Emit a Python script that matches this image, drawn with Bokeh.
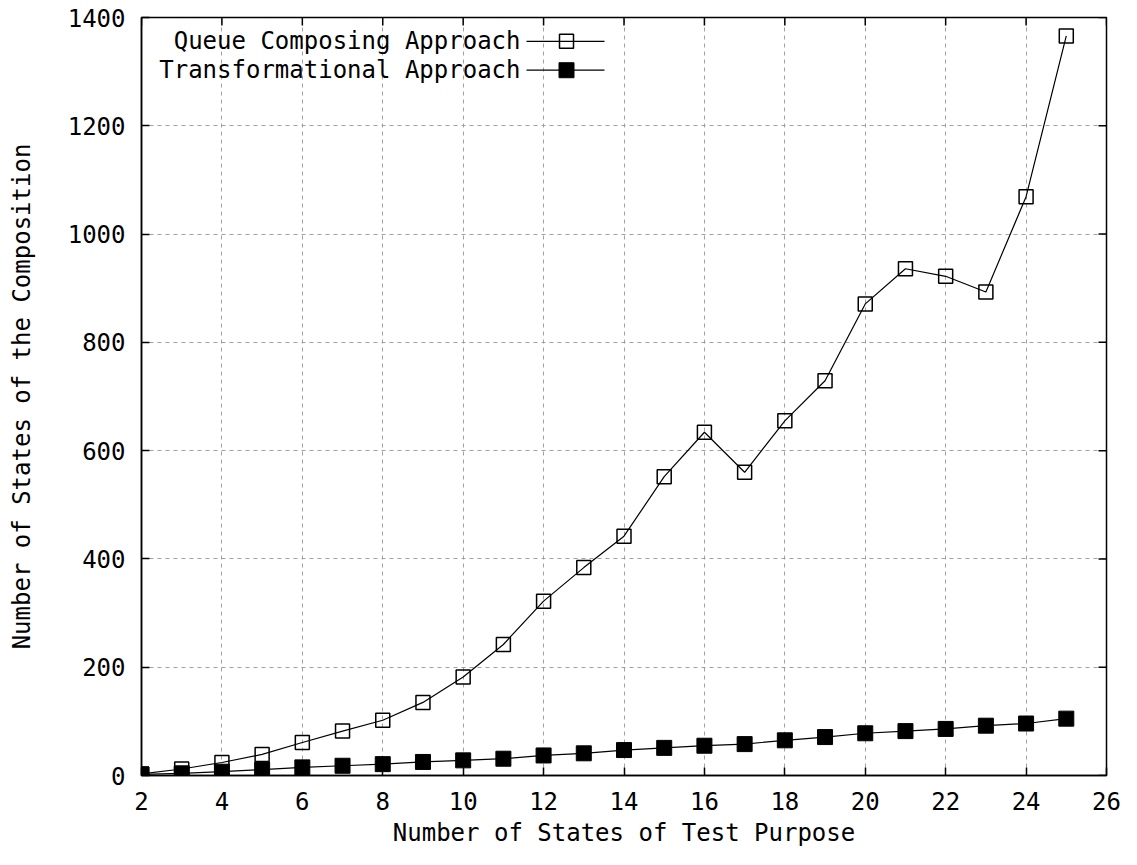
from bokeh.plotting import figure
from bokeh.models import Range1d, FixedTicker, Label
from bokeh.embed import file_html
from bokeh.resources import INLINE

# ---- data ----
x_states = list(range(2, 26))
queue_composing = [3, 12, 24, 39, 61, 82, 102, 135, 182, 242, 322, 384, 442,
                   552, 634, 560, 655, 729, 871, 936, 922, 893, 1069, 1366]
transformational = [2, 4, 7, 11, 15, 18, 21, 25, 28, 31, 37, 41, 47,
                    51, 55, 58, 65, 71, 78, 82, 86, 92, 96, 105]
x_ticks = list(range(2, 27, 2))
y_ticks = list(range(0, 1401, 200))
series_names = ["Queue Composing Approach", "Transformational Approach"]
x_title = "Number of States of Test Purpose"
y_title = "Number of States of the Composition"

FONT = "DejaVu Sans Mono"
FS = "24px"

# ---- layout (pixels) ----
W, H = 1121, 849
B_LEFT, B_RIGHT, B_TOP = 141, 15, 17
FRAME_H = 762
B_BOTTOM = H - B_TOP - FRAME_H
FRAME_W = W - B_LEFT - B_RIGHT
XMIN, XMAX, YMIN, YMAX = 2, 26, 0, 1400
PXX = FRAME_W / (XMAX - XMIN)
PXY = FRAME_H / (YMAX - YMIN)
FX0 = B_LEFT             # frame left, picture px
FY1 = B_TOP + FRAME_H    # frame bottom, picture px

def dx(px):
    return XMIN + (px - FX0) / PXX

def dy(py):
    return YMIN + (FY1 - py) / PXY

p = figure(width=W, height=H,
           x_range=Range1d(XMIN, XMAX), y_range=Range1d(YMIN, YMAX),
           output_backend="svg", toolbar_location=None,
           min_border_left=B_LEFT, min_border_right=B_RIGHT,
           min_border_top=B_TOP, min_border_bottom=B_BOTTOM,
           background_fill_color="white", border_fill_color="white")

p.outline_line_color = "black"
p.outline_line_width = 1.5

xa = p.xaxis[0]
ya = p.yaxis[0]
xa.ticker = FixedTicker(ticks=x_ticks)
ya.ticker = FixedTicker(ticks=y_ticks)
for ax in (xa, ya):
    ax.axis_line_color = "black"
    ax.axis_line_width = 1.5
    ax.major_tick_in = 8
    ax.major_tick_out = 0
    ax.major_tick_line_color = "black"
    ax.major_tick_line_width = 1.5
    ax.minor_tick_line_color = None
    ax.major_label_text_font = FONT
    ax.major_label_text_font_size = FS
    ax.major_label_text_color = "black"
    ax.axis_label_text_font = FONT
    ax.axis_label_text_font_size = FS
    ax.axis_label_text_font_style = "normal"
    ax.axis_label_text_color = "black"
xa.axis_label = x_title
ya.axis_label = y_title
xa.major_label_standoff = 16
xa.axis_label_standoff = 6
ya.major_label_standoff = 16
ya.axis_label_standoff = 29

# grid
for g in (p.xgrid[0], p.ygrid[0]):
    g.grid_line_color = "#a0a0a0"
    g.grid_line_dash = "4 4"
    g.grid_line_width = 1
p.xgrid[0].ticker = FixedTicker(ticks=x_ticks)
p.ygrid[0].ticker = FixedTicker(ticks=y_ticks)

# mirrored inward ticks on top and right edges
TICK = 8
p.segment(x0=x_ticks, y0=[YMAX] * len(x_ticks),
          x1=x_ticks, y1=[YMAX - TICK / PXY] * len(x_ticks),
          line_color="black", line_width=1.5)
p.segment(x0=[XMAX] * len(y_ticks), y0=y_ticks,
          x1=[XMAX - TICK / PXX] * len(y_ticks), y1=y_ticks,
          line_color="black", line_width=1.5)

# series
p.line(x_states, queue_composing, line_color="black", line_width=1.2)
p.scatter(x_states, queue_composing, marker="square", size=14,
          fill_alpha=0, line_color="black", line_width=1.5)
p.line(x_states, transformational, line_color="black", line_width=1.2)
p.scatter(x_states, transformational, marker="square", size=15,
          fill_color="black", line_color="black")

# gnuplot-style key: text on the left, sample on the right
rows = [(41, False), (70, True)]
for name, (py, filled) in zip(series_names, rows):
    p.add_layout(Label(x=dx(520), y=dy(py), text=name, text_align="right",
                       text_baseline="middle", text_font=FONT,
                       text_font_size=FS, text_color="black"))
    p.line([dx(526), dx(604)], [dy(py), dy(py)], line_color="black",
           line_width=1.2)
    if filled:
        p.scatter([dx(566)], [dy(py)], marker="square", size=15,
                  fill_color="black", line_color="black")
    else:
        p.scatter([dx(566)], [dy(py)], marker="square", size=14,
                  fill_alpha=0, line_color="black", line_width=1.5)

open("out.html", "w").write(file_html(p, INLINE))
